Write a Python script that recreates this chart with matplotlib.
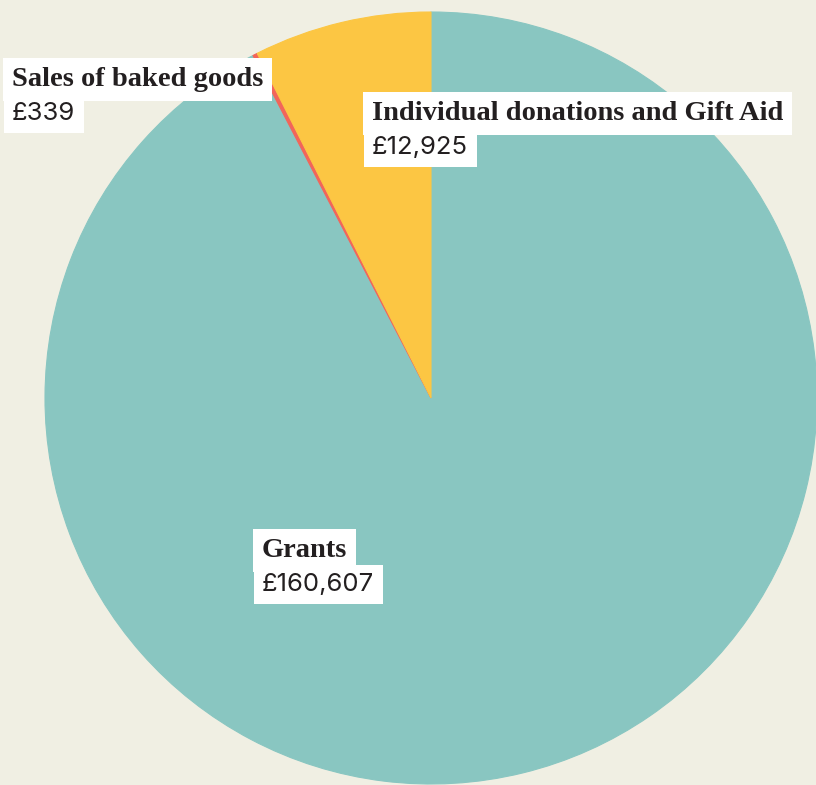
import matplotlib
matplotlib.use("Agg")
import matplotlib.pyplot as plt

categories = ["Grants", "Sales of baked goods", "Individual donations and Gift Aid"]
values = [160607, 339, 12925]
value_labels = ["£160,607", "£339", "£12,925"]
colors = ["#89C6C1", "#F2655A", "#FCC643"]

W, H = 816, 785
fig = plt.figure(figsize=(W / 100, H / 100), dpi=100)
fig.patch.set_facecolor("#F0EFE3")
ax = fig.add_axes([0, 0, 1, 1])

cx, cy, r = 431, H - 398, 386
ax.pie(values, colors=colors, startangle=90, counterclock=False,
       center=(cx, cy), radius=r, frame=True,
       wedgeprops=dict(linewidth=0.8, edgecolor=None))
for w, c in zip(ax.patches, colors):
    w.set_edgecolor(c)
ax.set_xlim(0, W)
ax.set_ylim(0, H)
ax.set_aspect("equal")
ax.axis("off")

# label positions (name text left x, name baseline y in pixel-from-top)
label_pos = {
    "Sales of baked goods": (12, 86),
    "Individual donations and Gift Aid": (372, 120),
    "Grants": (262, 557),
}
name_font = dict(family="Liberation Serif", fontweight="bold", fontsize=20.5, color="#231F20")
val_font = dict(family="Inter", fontsize=18.5, color="#231F20")
box_n = dict(boxstyle="square,pad=0.3", facecolor="white", edgecolor="none")
box_v = dict(boxstyle="square,pad=0.33", facecolor="white", edgecolor="none")

for cat, vl in zip(categories, value_labels):
    x, y = label_pos[cat]
    ax.text(x, H - y, cat, ha="left", va="baseline", bbox=box_n, **name_font, zorder=5)
    ax.text(x, H - y - 34, vl, ha="left", va="baseline", bbox=box_v, **val_font, zorder=4)

fig.savefig("out.png", dpi=100, facecolor=fig.get_facecolor())
